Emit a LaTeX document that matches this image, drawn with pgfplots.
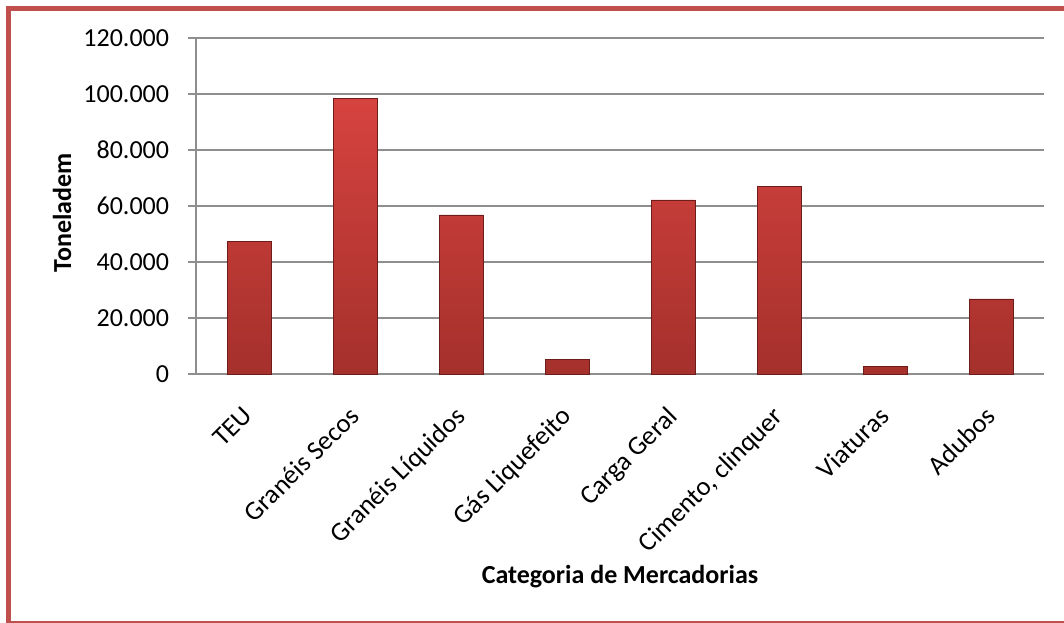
\documentclass[border=0pt]{standalone}
\usepackage{fontspec}
\setmainfont{Carlito}
\usepackage{pgfplots}
\pgfplotsset{compat=1.18}
\definecolor{framec}{HTML}{C0504D}
\definecolor{gridc}{HTML}{8E8E8E}
\definecolor{bartop}{HTML}{D6433F}
\definecolor{barbot}{HTML}{A5302C}
\definecolor{baredge}{HTML}{6E1C19}
\begin{document}
\fontsize{19.5}{23}\selectfont
\begin{tikzpicture}
\useasboundingbox (0pt,0pt) rectangle (798pt,466.5pt);
\begin{scope}
\clip (0pt,0pt) rectangle (798pt,466.5pt);
\draw[framec, line width=3.75pt] (6.375pt,-1.125pt) rectangle (810pt,460.125pt);
\end{scope}
\begin{axis}[
  at={(147pt,186pt)}, anchor=south west,
  scale only axis, width=636pt, height=252pt,
  xmin=-0.5, xmax=7.5, ymin=0, ymax=120000,
  ytick={0,20000,40000,60000,80000,100000,120000},
  scaled y ticks=false,
  yticklabel style={xshift=-7.5pt, /pgf/number format/.cd, fixed, 1000 sep={.}, assume math mode=true},
  xtick={0,1,2,3,4,5,6,7},
  xticklabels={TEU,Granéis Secos,Granéis Líquidos,Gás Liquefeito,Carga Geral,{Cimento, clinquer},Viaturas,Adubos},
  x tick label style={rotate=45, anchor=north east, inner sep=2pt, yshift=-6pt, xshift=-14pt, font=\fontsize{20}{24}\selectfont},
  xtick style={draw=none},
  ytick style={gridc, line width=1pt},
  tick align=outside, major tick length=6pt,
  axis x line*=bottom, axis y line*=left,
  axis line style={gridc, line width=1pt},
  ymajorgrids, grid style={gridc, line width=1pt},
  every axis y label/.style={at={(axis description cs:0,0.48)}, xshift=-100.5pt, rotate=90, anchor=center, font=\bfseries},
  every axis x label/.style={at={(axis description cs:0.5,0)}, yshift=-152pt, anchor=center, font=\bfseries},
  ylabel={Toneladem},
  xlabel={Categoria de Mercadorias},
]
\addplot[ybar, bar width=0.415, draw=baredge, line width=0.6pt, top color=bartop, bottom color=barbot]
coordinates {(0,47500) (1,98450) (2,56800) (3,5250) (4,62150) (5,66900) (6,2850) (7,26800)};
\end{axis}
\end{tikzpicture}
\end{document}
